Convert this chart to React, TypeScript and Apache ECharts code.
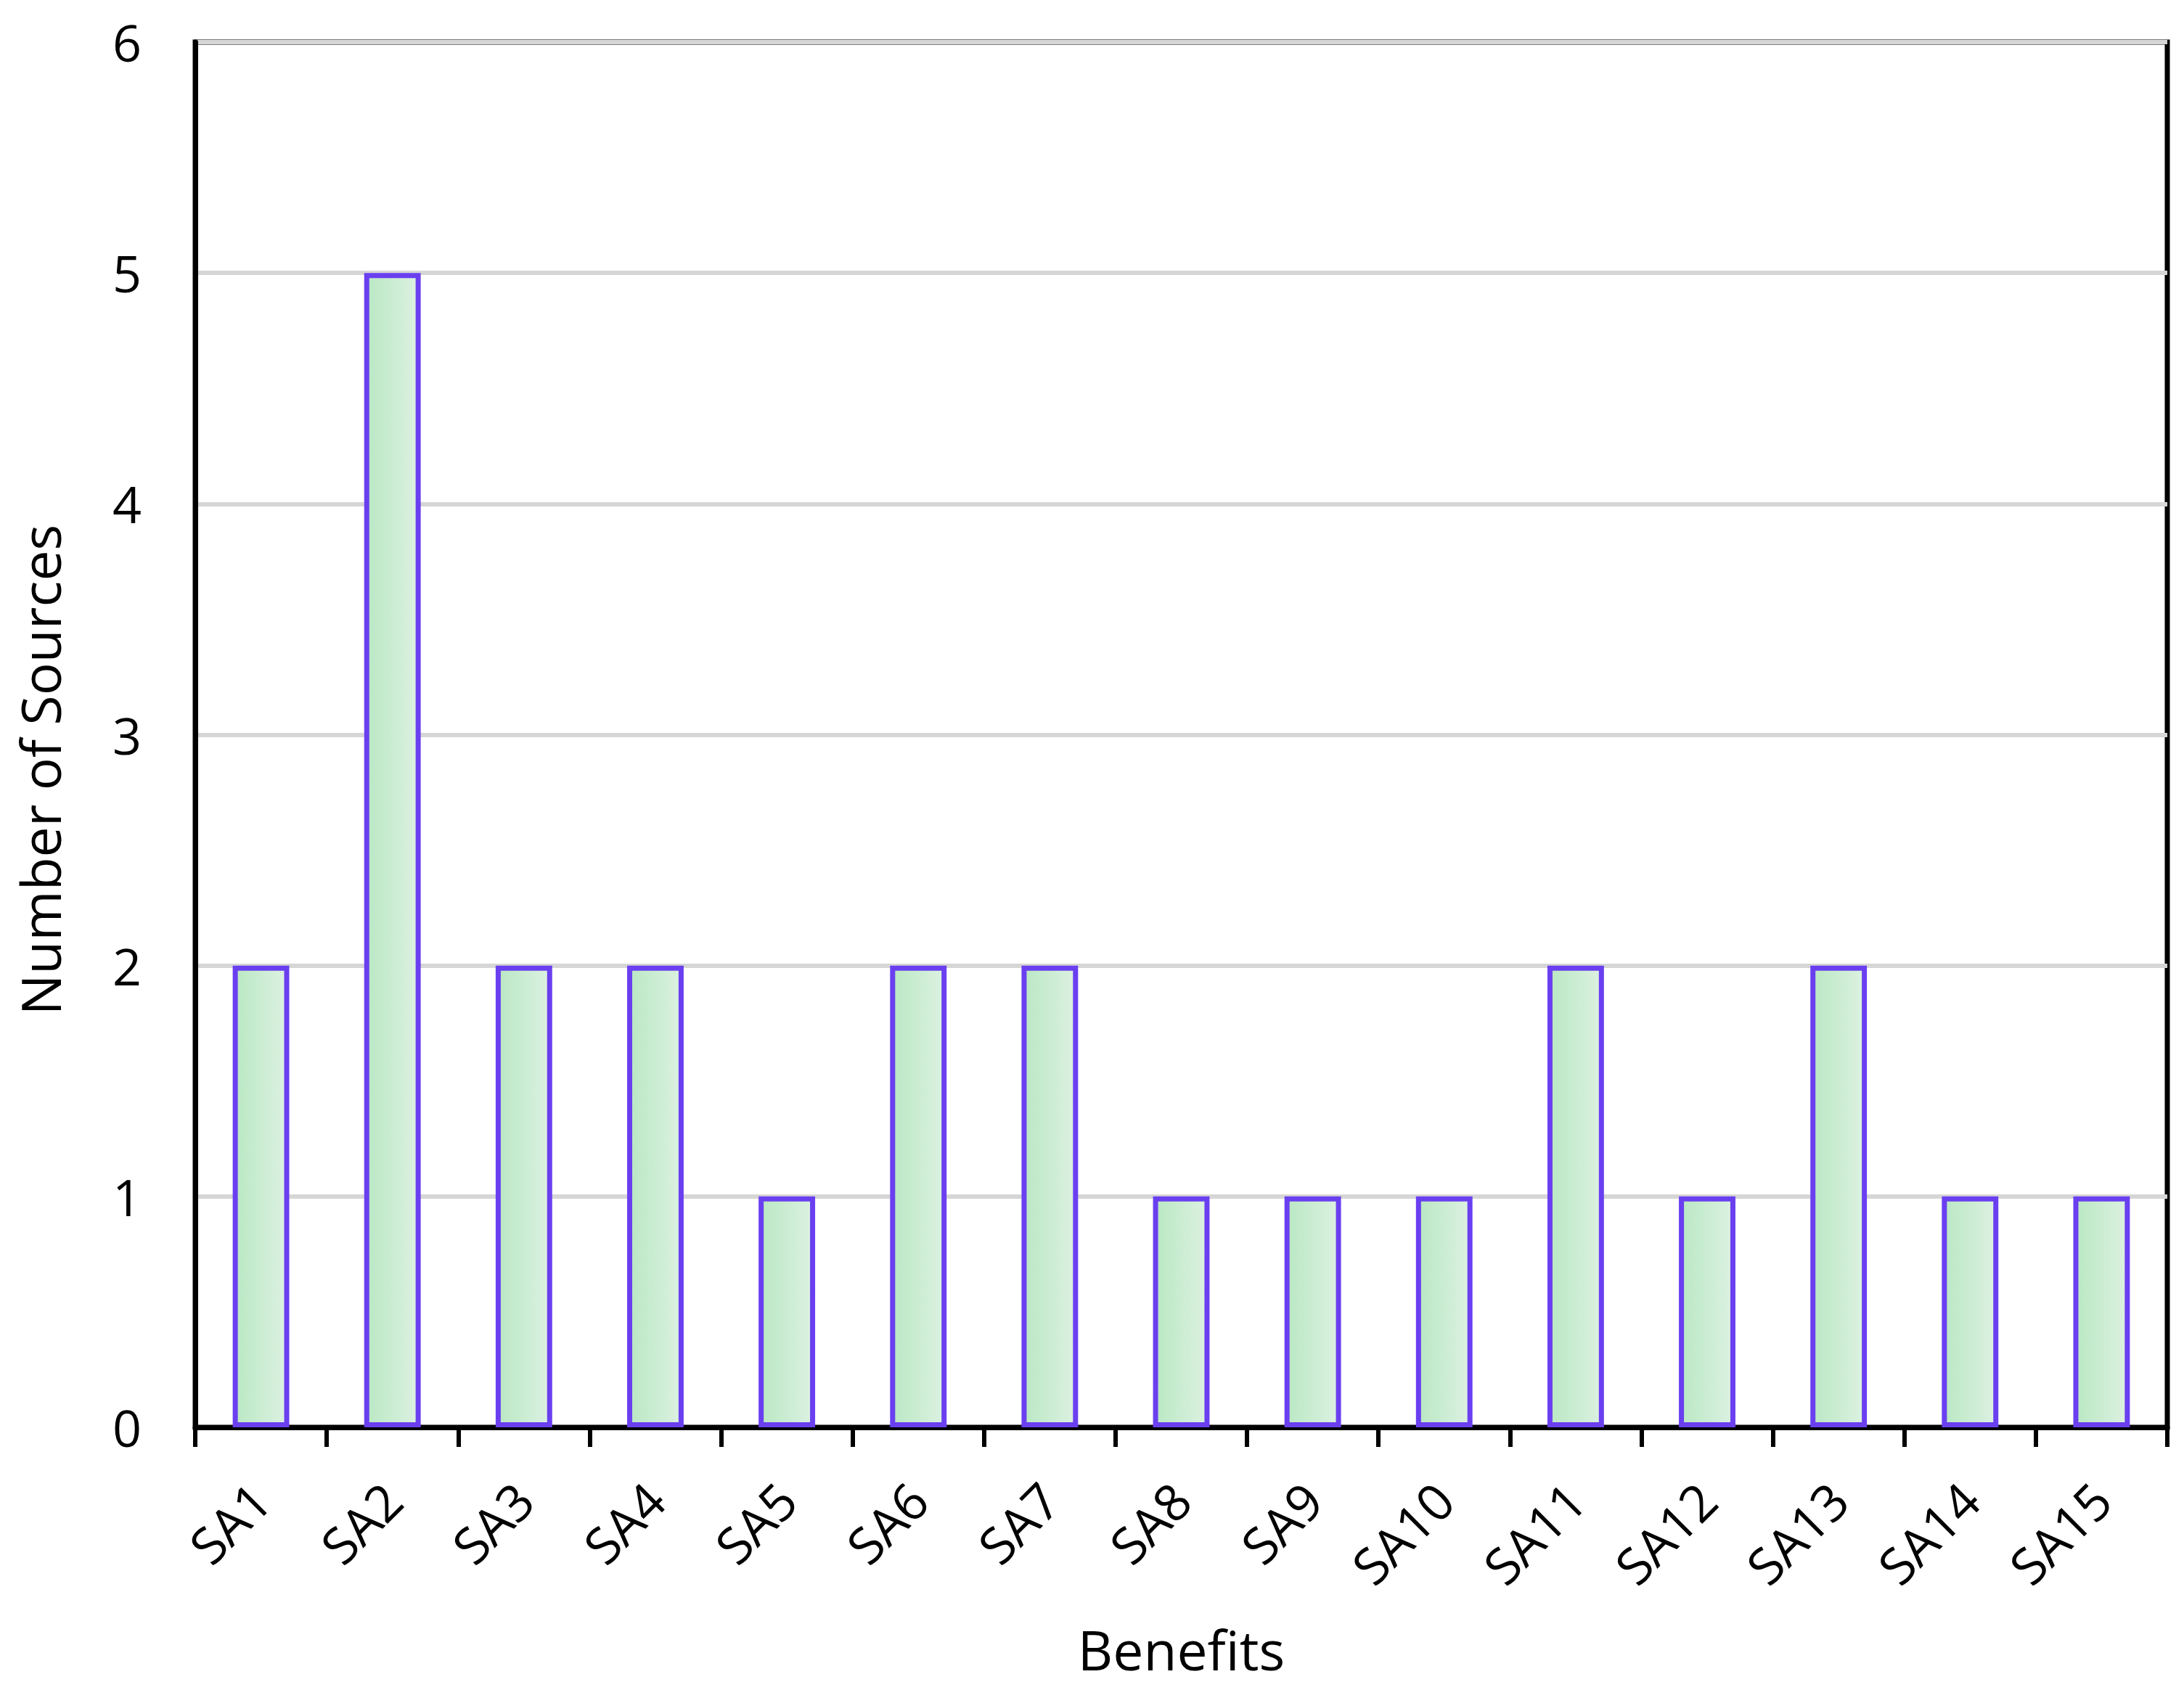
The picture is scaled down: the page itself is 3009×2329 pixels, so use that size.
import React, { useEffect, useRef } from "react";
import * as echarts from "echarts";

const categories = ["SA1","SA2","SA3","SA4","SA5","SA6","SA7","SA8","SA9","SA10","SA11","SA12","SA13","SA14","SA15"];
const sources = [2,5,2,2,1,2,2,1,1,1,2,1,2,1,1];
const yTicks = [0,1,2,3,4,5,6];
const xTitle = "Benefits";
const yTitle = "Number of Sources";

export default function App() {
  const ref = useRef<HTMLDivElement>(null);
  useEffect(() => {
    document.body.style.margin = "0";
    const chart = echarts.init(ref.current!, null, { renderer: "svg" });
    const font = "Open Sans";
    chart.setOption({
      animation: false,
      backgroundColor: "#ffffff",
      grid: { left: 269, right: 23, top: 58, bottom: 362, show: true, borderColor: "#000", borderWidth: 7, backgroundColor: "transparent" },
      graphic: [
        {
          type: "text",
          x: 55,
          y: 1061,
          rotation: Math.PI / 2,
          style: { text: yTitle, font: `75px "${font}"`, fill: "#000", align: "center", verticalAlign: "middle" },
        },
      ],
      xAxis: {
        type: "category",
        data: categories,
        name: xTitle,
        nameLocation: "middle",
        nameGap: 268,
        nameTextStyle: { fontFamily: font, fontSize: 75, color: "#000" },
        axisLine: { lineStyle: { color: "#000", width: 7 } },
        axisTick: { show: true, length: 27, lineStyle: { color: "#000", width: 6 }, alignWithLabel: false },
        axisLabel: { rotate: 45, margin: 88, fontFamily: font, fontSize: 70, color: "#000", interval: 0 },
      },
      yAxis: {
        type: "value",
        min: yTicks[0],
        max: yTicks[yTicks.length - 1],
        interval: 1,
        axisLine: { show: true, lineStyle: { color: "#000", width: 7 } },
        axisTick: { show: false },
        axisLabel: { margin: 74, fontFamily: font, fontSize: 70, color: "#000" },
        splitLine: { show: true, lineStyle: { color: "#d6d6d6", width: 6 } },
      },
      series: [
        {
          type: "bar",
          data: sources,
          barWidth: "43%",
          itemStyle: {
            color: new echarts.graphic.LinearGradient(0, 0, 1, 0, [
              { offset: 0, color: "#bae8c4" },
              { offset: 1, color: "#dcf1e1" },
            ]),
            borderColor: "#6a3ff0",
            borderWidth: 7,
          },
        },
      ],
    });
    return () => chart.dispose();
  }, []);
  return <div ref={ref} style={{ width: 3009, height: 2329 }} />;
}
